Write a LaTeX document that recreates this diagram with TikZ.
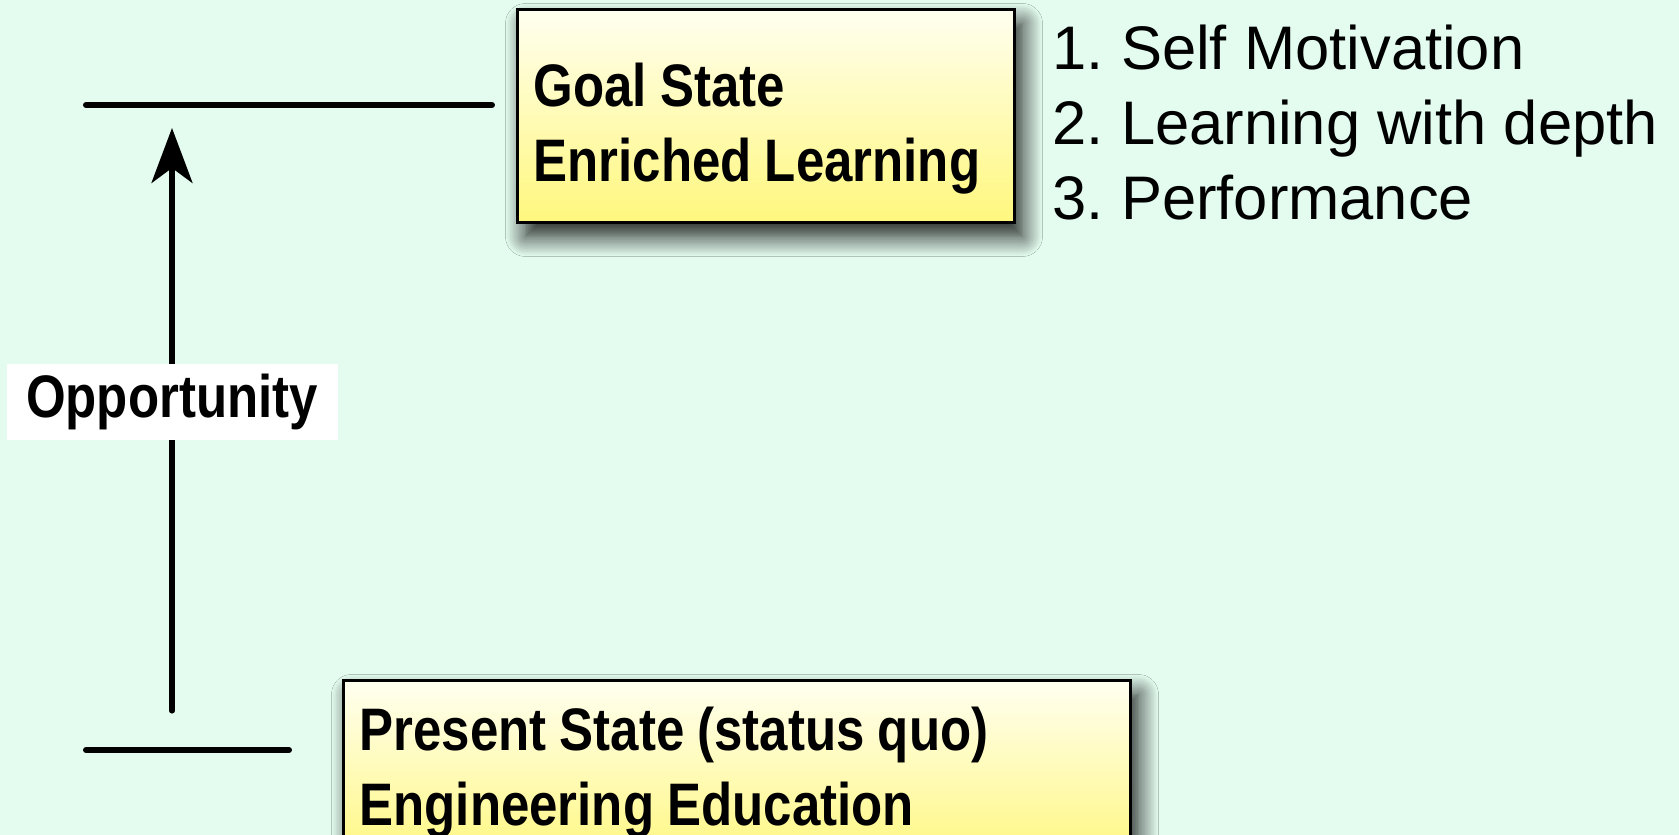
\documentclass[tikz,border=0pt]{standalone}
\usepackage{fontspec}
\setmainfont{Liberation Sans}
\newfontfamily\boldcond{Liberation Sans Bold}[FakeStretch=0.85]
\usetikzlibrary{arrows.meta,shadows.blur}
\frenchspacing

\definecolor{bgmint}{RGB}{228,252,240}
\definecolor{boxtop}{RGB}{255,255,240}
\definecolor{boxyellow}{RGB}{255,247,125}

% pushes the first line of a box down a little
\newcommand{\topstrut}{\rule{0pt}{0.69cm}}
% condensed bold with tighter word gaps
\newcommand{\statefont}{\boldcond\fontsize{17.07pt}{21.34pt}\selectfont\spaceskip=0.22em}

\tikzset{
  statebox/.style={draw=black, line width=0.85pt, top color=boxtop, bottom color=boxyellow,
    blur shadow={shadow xshift=0.08cm, shadow yshift=-0.14cm, shadow blur radius=0.2cm,
      shadow blur steps=14, shadow opacity=90},
    align=flush left, inner xsep=0.16cm, font=\statefont},
  stateline/.style={line width=1.7pt, line cap=round},
  arrowline/.style={line width=1.45pt, line cap=round,
    -{Stealth[length=0.55cm, width=0.41cm, inset=0.15cm]}},
  oppbox/.style={fill=white, inner sep=0pt, minimum width=3.31cm, minimum height=0.76cm,
    font=\statefont},
  itemtext/.style={anchor=base west, inner sep=0pt, font=\fontsize{17.5pt}{21.34pt}\selectfont}
}

\begin{document}
\begin{tikzpicture}
  \useasboundingbox (0,0) rectangle (16.79,-8.35);
  \fill[bgmint] (0,0) rectangle (16.79,-8.35);
  \clip (0,0) rectangle (16.79,-8.35);

  % the two states
  \node[statebox, anchor=north west, text width=4.65cm, minimum height=2.13cm] (goal)
    at (5.16,-0.08) {\topstrut Goal State\\Enriched Learning};
  \node[statebox, anchor=north west, text width=7.55cm, inner ysep=0.27cm] (present)
    at (3.42,-6.79) {Present State (status quo)\\Engineering Education};

  % what the goal brings
  \node[itemtext] (item1) at (10.52,-0.70) {1. Self Motivation};
  \node[itemtext] (item2) at (10.52,-1.45) {2. Learning with depth};
  \node[itemtext] (item3) at (10.52,-2.20) {3. Performance};

  % level marks
  \coordinate (goalL) at (0.86,-1.05);
  \coordinate (goalR) at (4.92,-1.05);
  \coordinate (presL) at (0.86,-7.50);
  \coordinate (presR) at (2.89,-7.50);
  \draw[stateline] (goalL) -- (goalR);
  \draw[stateline] (presL) -- (presR);

  % gap between them
  \coordinate (oppbot) at (1.72,-7.11);
  \coordinate (opptop) at (1.72,-1.28);
  \draw[arrowline] (oppbot) -- node[oppbox, pos=0.53] (opp) {Opportunity} (opptop);
\end{tikzpicture}
\end{document}
